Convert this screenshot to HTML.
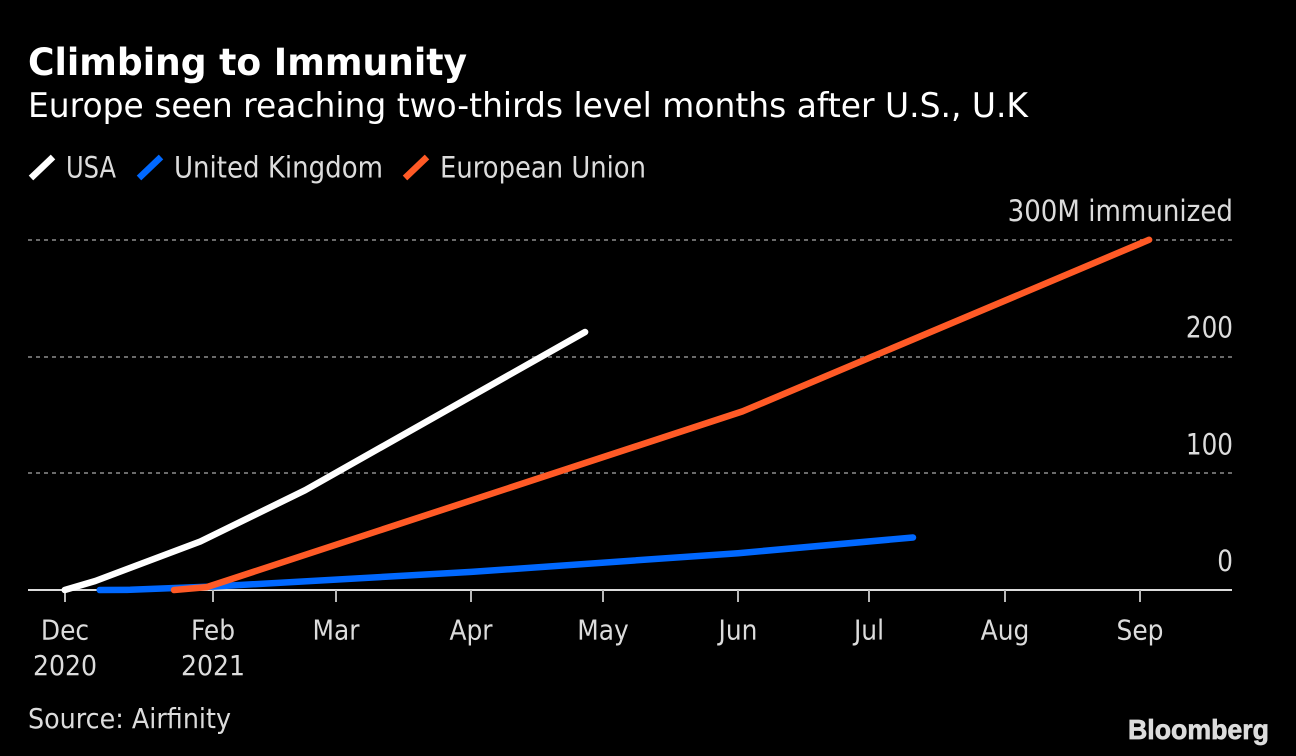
<!DOCTYPE html>
<html lang="en">
<head>
<meta charset="utf-8">
<title>Climbing to Immunity</title>
<style>
html,body{margin:0;padding:0;background:#000;width:1296px;height:756px;overflow:hidden}
svg{display:block}
text{font-family:"DejaVu Sans","Liberation Sans",sans-serif;fill:#dcdcdc}
</style>
</head>
<body>
<svg id="chart" xmlns="http://www.w3.org/2000/svg" width="1296" height="756" viewBox="0 0 1296 756">
  <rect width="1296" height="756" fill="#000"/>
  <text x="28" y="75" font-size="37" font-weight="700" style="fill:#fff" textLength="439" lengthAdjust="spacingAndGlyphs">Climbing to Immunity</text>
  <text x="28" y="117" font-size="34" style="fill:#fff" textLength="1000" lengthAdjust="spacingAndGlyphs">Europe seen reaching two-thirds level months after U.S., U.K</text>
  <g>
    <line x1="31" y1="178" x2="53" y2="157" stroke="#fff" stroke-width="6.5"/>
    <text x="66" y="177.5" font-size="29" textLength="50" lengthAdjust="spacingAndGlyphs">USA</text>
    <line x1="139" y1="178" x2="161" y2="157" stroke="#0068ff" stroke-width="6.5"/>
    <text x="174" y="177.5" font-size="29" textLength="209" lengthAdjust="spacingAndGlyphs">United Kingdom</text>
    <line x1="405" y1="178" x2="427" y2="157" stroke="#ff5a26" stroke-width="6.5"/>
    <text x="440" y="177.5" font-size="29" textLength="206" lengthAdjust="spacingAndGlyphs">European Union</text>
  </g>
  <g id="grid"></g>
  <g id="ylabels"></g>
  <g id="xaxis"></g>
  <g id="series"></g>
  <text x="28" y="728" font-size="28" textLength="203" lengthAdjust="spacingAndGlyphs">Source: Airfinity</text>
  <text x="1128" y="739" font-size="28" font-weight="700" stroke="#dcdcdc" stroke-width="0.7" style="font-family:'Liberation Sans',sans-serif;fill:#dcdcdc" textLength="141" lengthAdjust="spacingAndGlyphs">Bloomberg</text>
</svg>
<script>
// Days are counted from 1 Jan 2021; values are millions immunized.
const tickDays = [-3, 31, 59, 90, 120, 151, 181, 212, 243];
const tickMonths = ["Dec", "Feb", "Mar", "Apr", "May", "Jun", "Jul", "Aug", "Sep"];
const tickYears = ["2020", "2021", "", "", "", "", "", "", ""];
const yTicks = [0, 100, 200, 300];
const yTickLabels = ["0", "100", "200", "300M immunized"];
const usaDays = [-3, 4, 28, 52, 116];
const usaValues = [0, 7.7, 41.5, 85.5, 221];
const ukDays = [5, 12, 31, 90, 151, 191];
const ukValues = [0, 0.2, 3, 15.5, 31.5, 45];
const euDays = [22, 29.5, 152, 245];
const euValues = [0, 2.5, 153, 300];
const seriesNames = ["united-kingdom", "european-union", "usa"];
const seriesColors = ["#0068ff", "#ff5a26", "#ffffff"];
const seriesDays = [ukDays, euDays, usaDays];
const seriesValues = [ukValues, euValues, usaValues];

const NS = "http://www.w3.org/2000/svg";
const xScale = d => 213.4 + (d - 31) * (927 / 212);
const yScale = v => 590 - v * 1.1675;
const make = (tag, parent, attrs) => {
  const el = document.createElementNS(NS, tag);
  for (const k in attrs) el.setAttribute(k, attrs[k]);
  parent.appendChild(el);
  return el;
};
const squeeze = (el, ratio) => {
  el.setAttribute("textLength", (el.getComputedTextLength() * ratio).toFixed(1));
  el.setAttribute("lengthAdjust", "spacingAndGlyphs");
};

const grid = document.getElementById("grid");
const ylabels = document.getElementById("ylabels");
yTicks.forEach((v, i) => {
  if (v !== 0) {
    const gy = Math.round(yScale(v));
    const g = make("line", grid, {x1: 28, x2: 1232, y1: gy, y2: gy, stroke: "#6a6a6a", "stroke-width": 2, "stroke-dasharray": "4 4"});
    
    
  }
  const t = make("text", ylabels, {x: 1233, y: yScale(v) - 19, "font-size": 29, "text-anchor": "end"});
  t.textContent = yTickLabels[i];
  
  
  squeeze(t, yTickLabels[i].length > 3 ? 0.9 : 0.85);
});

const xaxis = document.getElementById("xaxis");
const baseline = make("line", xaxis, {x1: 28, x2: 1232, y1: yScale(0), y2: yScale(0), stroke: "#dcdcdc", "stroke-width": 2});


tickDays.forEach((d, i) => {
  const x = Math.round(xScale(d));
  const tk = make("line", xaxis, {x1: x, x2: x, y1: 590, y2: 602, stroke: "#b8b8b8", "stroke-width": 2});
  
  
  const m = make("text", xaxis, {x: x, y: 639.5, "font-size": 28, "text-anchor": "middle"});
  m.textContent = tickMonths[i];
  
  
  squeeze(m, 0.89);
  if (tickYears[i]) {
    const y = make("text", xaxis, {x: x, y: 675, "font-size": 28, "text-anchor": "middle"});
    y.textContent = tickYears[i];
    
    
    squeeze(y, 0.9);
  }
});

const series = document.getElementById("series");
seriesNames.forEach((name, i) => {
  const pts = seriesDays[i].map((d, j) => xScale(d).toFixed(1) + "," + yScale(seriesValues[i][j]).toFixed(1)).join(" ");
  const p = make("polyline", series, {points: pts, fill: "none", stroke: seriesColors[i], "stroke-width": 6.5, "stroke-linecap": "round", "stroke-linejoin": "round"});
  
  
});
</script>
</body>
</html>
